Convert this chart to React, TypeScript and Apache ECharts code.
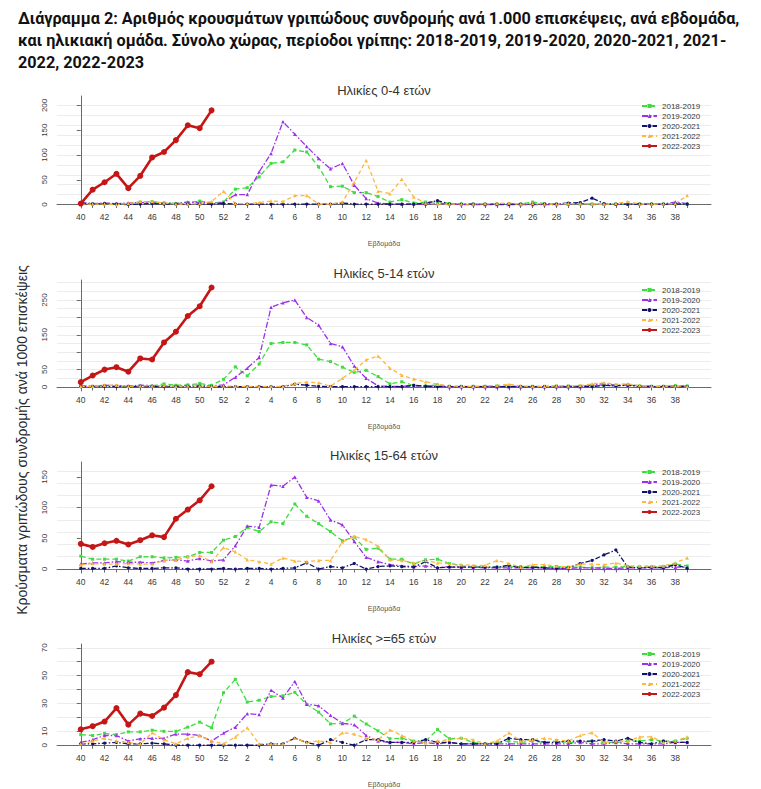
import React, { useEffect, useRef } from "react";
import * as echarts from "echarts";

// ---------- data ----------
const WEEKS = [40, 41, 42, 43, 44, 45, 46, 47, 48, 49, 50, 51, 52, 1, 2, 3, 4, 5, 6, 7, 8, 9, 10, 11, 12, 13, 14, 15, 16, 17, 18, 19, 20, 21, 22, 23, 24, 25, 26, 27, 28, 29, 30, 31, 32, 33, 34, 35, 36, 37, 38, 39];
const SEASONS = ["2018-2019", "2019-2020", "2020-2021", "2021-2022", "2022-2023"];
const PANEL_TITLES = ["Ηλικίες 0-4 ετών", "Ηλικίες 5-14 ετών", "Ηλικίες 15-64 ετών", "Ηλικίες >=65 ετών"];
const HEADER = [
  "Διάγραμμα 2: Αριθμός κρουσμάτων γριπώδους συνδρομής ανά 1.000 επισκέψεις, ανά εβδομάδα,",
  "και ηλικιακή ομάδα. Σύνολο χώρας, περίοδοι γρίπης: 2018-2019, 2019-2020, 2020-2021, 2021-",
  "2022, 2022-2023",
];
const Y_TITLE = "Κρούσματα γριπώδους συνδρομής ανά 1000 επισκέψεις";
const X_TITLE = "Εβδομάδα";

const Y_TICKS = [
  [0, 50, 100, 150, 200],
  [0, 50, 100, 150, 200, 250],
  [0, 50, 100, 150],
  [0, 10, 20, 30, 40, 50, 60, 70],
];
const Y_LABELS = [
  [0, 50, 100, 150, 200],
  [0, 50, 150, 250],
  [0, 50, 100, 150],
  [0, 10, 30, 50, 70],
];
const GRID_VALUES = [
  [0, 20, 40, 60, 80, 100, 120, 140, 160, 180, 200],
  [0, 25, 50, 75, 100, 125, 150, 175, 200, 225, 250, 275, 300],
  [0, 20, 40, 60, 80, 100, 120, 140, 160],
  [0, 10, 20, 30, 40, 50, 60, 70],
];

// Ηλικίες 0-4
const P1_1819 = [3, 2, 2, 1, 2, 5, 6, 3, 2, 4, 7, 3, 5, 31, 34, 56, 83, 86, 110, 106, 76, 36, 37, 24, 24, 16, 5, 10, 3, 5, 6, 2, 1, 1, 1, 1, 1, 1, 5, 2, 1, 1, 2, 1, 1, 1, 1, 1, 1, 1, 2, 1];
const P1_1920 = [4, 2, 3, 2, 3, 4, 4, 3, 2, 5, 4, 3, 4, 20, 20, 66, 103, 167, 142, 117, 93, 72, 83, 39, 12, 3, 1, 1, 1, 1, 3, 1, 0, 0, 0, 0, 0, 0, 0, 0, 0, 1, 2, 1, 1, 1, 1, 1, 1, 1, 5, 2];
const P1_2021 = [3, 1, 2, 1, 0, 1, 2, 1, 1, 1, 1, 1, 2, 1, 1, 1, 1, 1, 1, 1, 1, 1, 3, 1, 1, 1, 1, 1, 1, 2, 8, 1, 1, 1, 1, 1, 1, 1, 1, 1, 1, 3, 4, 13, 2, 1, 1, 1, 1, 1, 1, 1];
const P1_2122 = [1, 1, 1, 0, 2, 6, 6, 3, 1, 1, 2, 6, 27, 2, 2, 4, 7, 6, 18, 18, 1, 1, 5, 45, 89, 27, 22, 51, 15, 3, 1, 1, 1, 1, 2, 2, 3, 1, 2, 1, 1, 2, 2, 1, 1, 2, 6, 1, 1, 1, 2, 18];
const P1_2223 = [2, 30, 45, 62, 33, 58, 95, 106, 130, 160, 154, 190];

// Ηλικίες 5-14
const P2_1819 = [3, 2, 4, 3, 2, 4, 3, 9, 5, 6, 10, 5, 22, 58, 32, 66, 125, 128, 128, 121, 80, 73, 57, 42, 48, 30, 9, 15, 4, 3, 6, 2, 2, 2, 2, 3, 3, 2, 2, 2, 3, 3, 3, 4, 5, 4, 6, 3, 2, 2, 4, 3];
const P2_1920 = [3, 2, 5, 4, 3, 5, 4, 3, 3, 4, 5, 3, 6, 28, 54, 85, 229, 242, 250, 200, 178, 125, 116, 60, 25, 3, 2, 2, 3, 3, 2, 1, 1, 1, 1, 1, 1, 1, 1, 1, 1, 1, 1, 6, 10, 5, 6, 3, 2, 2, 3, 2];
const P2_2021 = [1, 1, 2, 1, 1, 1, 1, 1, 1, 1, 1, 1, 1, 1, 1, 1, 1, 1, 8, 5, 2, 1, 1, 1, 1, 1, 1, 1, 5, 2, 1, 1, 1, 1, 1, 1, 1, 1, 1, 1, 1, 1, 1, 1, 5, 3, 5, 2, 1, 1, 1, 1];
const P2_2122 = [2, 2, 5, 5, 2, 3, 3, 4, 2, 3, 3, 2, 3, 2, 2, 2, 2, 2, 10, 14, 12, 2, 25, 48, 78, 89, 54, 34, 23, 15, 8, 3, 2, 2, 3, 4, 8, 3, 2, 2, 3, 3, 4, 9, 12, 8, 9, 4, 2, 2, 3, 2];
const P2_2223 = [14, 33, 50, 57, 44, 82, 79, 128, 159, 204, 232, 286];

// Ηλικίες 15-64
const P3_1819 = [21, 16, 16, 16, 13, 20, 20, 18, 19, 20, 27, 27, 47, 53, 68, 61, 77, 74, 106, 86, 74, 61, 46, 52, 32, 34, 16, 16, 8, 15, 16, 9, 5, 4, 3, 3, 3, 4, 3, 4, 4, 3, 3, 2, 3, 3, 4, 3, 3, 4, 8, 5];
const P3_1920 = [8, 10, 10, 12, 11, 11, 10, 14, 15, 13, 17, 13, 15, 38, 70, 68, 137, 135, 150, 117, 111, 80, 72, 45, 19, 12, 7, 5, 4, 5, 2, 4, 3, 3, 2, 2, 2, 2, 2, 2, 1, 1, 2, 2, 1, 1, 2, 2, 2, 2, 3, 3];
const P3_2021 = [1, 1, 1, 5, 2, 1, 1, 2, 2, 0, 0, 0, 1, 0, 1, 1, 0, 1, 2, 10, 0, 4, 2, 9, 0, 4, 5, 4, 3, 12, 2, 3, 3, 3, 3, 3, 6, 2, 3, 2, 1, 2, 9, 14, 23, 31, 3, 2, 3, 2, 7, 1];
const P3_2122 = [7, 9, 8, 8, 9, 8, 8, 14, 15, 20, 22, 12, 35, 28, 15, 12, 8, 18, 13, 12, 14, 14, 44, 53, 48, 37, 15, 14, 10, 14, 10, 9, 7, 6, 6, 14, 9, 3, 7, 7, 5, 3, 8, 8, 7, 10, 5, 5, 5, 5, 10, 18];
const P3_2223 = [41, 36, 42, 46, 40, 47, 55, 52, 82, 97, 112, 135];

// Ηλικίες >=65
const P4_1819 = [7.6, 7, 8.5, 7.6, 9.6, 9.6, 10.8, 10, 10, 13, 16.6, 12.6, 37.7, 47.3, 31, 32.3, 35, 35.5, 38, 29.4, 23.8, 15.3, 15.7, 20.9, 15.3, 10.3, 4.7, 5, 3, 3, 11.2, 4.7, 5, 2, 1, 2, 3, 2, 3, 2, 3, 2, 2, 3, 2, 2, 3, 3, 4, 3, 3, 5];
const P4_1920 = [2, 4, 7, 7, 3, 4.7, 5, 5, 8, 8, 7, 3, 8.7, 13, 22.7, 22, 39.5, 33.9, 45.8, 29.4, 28.3, 21.5, 15.7, 14.8, 7, 3, 2, 2, 1, 2, 1, 2, 1, 1, 1, 1, 1, 1, 1, 1, 1, 1, 2, 1, 1, 2, 1, 1, 1, 1, 2, 2];
const P4_2021 = [1, 1, 1.5, 2, 1, 1, 1.5, 1, 0, 0, 0, 0, 0, 0, 0, 0, 1, 1, 5, 2, 0, 4, 2, 0, 4, 4, 2, 2, 2, 4, 2, 2, 1, 1, 1, 1, 5, 4, 4, 2, 2, 3, 3, 3, 4, 3, 5, 2, 1, 3, 2, 2];
const P4_2122 = [1, 3, 5, 3, 2, 1, 9, 4, 1, 5, 7, 3, 1, 6, 12.6, 1, 1, 1, 5, 2, 3, 2, 9, 8, 5, 4, 11, 7, 3, 2, 3, 4, 5, 4, 1, 3, 9, 3, 4, 5, 4, 3, 7, 9, 2, 3, 3, 6, 6, 2, 3, 6];
const P4_2223 = [11.4, 13.7, 17, 26.7, 14.8, 22.7, 21, 27, 36, 52.5, 51, 60];

const PANEL_DATA = [
  [P1_1819, P1_1920, P1_2021, P1_2122, P1_2223],
  [P2_1819, P2_1920, P2_2021, P2_2122, P2_2223],
  [P3_1819, P3_1920, P3_2021, P3_2122, P3_2223],
  [P4_1819, P4_1920, P4_2021, P4_2122, P4_2223],
];

// ---------- layout & style ----------
const FONT = '"Liberation Sans", Arial, sans-serif';
const HFONT = 'Roboto, "Noto Sans", "DejaVu Sans", sans-serif';
const PLOT_LEFT = 57;
const PLOT_RIGHT = 761 - 711;
const LAYOUT = [
  { top: 96, height: 112, min: -7, max: 219, titleY: 90 },
  { top: 280, height: 111, min: -11.5, max: 307.5, titleY: 273 },
  { top: 462, height: 111, min: -6.5, max: 174.5, titleY: 455 },
  { top: 644, height: 112, min: -2.7, max: 72.7, titleY: 638 },
];
const STYLES = [
  { color: "#3fdc3f", dash: [5, 3] as any, symbol: "rect", size: 3, width: 1.3 },
  { color: "#9b30e8", dash: [6, 2, 1.5, 2] as any, symbol: "triangle", size: 3.5, width: 1.3 },
  { color: "#12126e", dash: [5, 2, 1.5, 2] as any, symbol: "circle", size: 3.2, width: 1.3 },
  { color: "#ffb63c", dash: [4, 3] as any, symbol: "triangle", size: 3.5, width: 1.3 },
  { color: "#c51616", dash: "solid" as any, symbol: "circle", size: 6, width: 2.6 },
];
const AXIS_COLOR = "#6a6a6a";
const TEXT_COLOR = "#3a3a3a";

function headerFontSize(): number {
  try {
    const ctx = document.createElement("canvas").getContext("2d");
    if (!ctx) return 15;
    ctx.font = `bold 20px ${HFONT}`;
    const w = ctx.measureText(HEADER[0]).width;
    return Math.max(12, Math.min(17, (20 * 722) / w));
  } catch (e) {
    return 15;
  }
}

function buildOption(): any {
  const idxTicks = WEEKS.map((_, i) => i);
  const idxLabels = WEEKS.map((_, i) => i).filter((i) => i % 2 === 0);

  const grid = LAYOUT.map((l) => ({ left: PLOT_LEFT, right: PLOT_RIGHT, top: l.top, height: l.height }));
  const xAxis = LAYOUT.map((l, k) => ({
    type: "value",
    gridIndex: k,
    min: -2,
    max: 53,
    axisLine: { show: true, lineStyle: { color: AXIS_COLOR, width: 1 } },
    axisTick: { show: true, customValues: idxTicks, length: 3.5, lineStyle: { color: AXIS_COLOR } },
    axisLabel: {
      customValues: idxLabels,
      formatter: (v: number) => String(WEEKS[Math.round(v)]),
      fontSize: 8.5,
      color: TEXT_COLOR,
      fontFamily: FONT,
      margin: 4,
    },
    splitLine: { show: false },
    name: X_TITLE,
    nameLocation: "middle",
    nameGap: 32,
    nameTextStyle: { fontSize: 7, color: "#555", fontFamily: FONT },
  }));
  const yAxis = LAYOUT.map((l, k) => ({
    type: "value",
    gridIndex: k,
    min: l.min,
    max: l.max,
    axisLine: { show: true, lineStyle: { color: AXIS_COLOR, width: 1 } },
    axisTick: { show: true, customValues: Y_TICKS[k], length: 4, lineStyle: { color: AXIS_COLOR } },
    axisLabel: {
      customValues: Y_LABELS[k],
      rotate: 90,
      fontSize: 8,
      color: TEXT_COLOR,
      fontFamily: FONT,
      margin: 9,
    },
    splitLine: { show: false },
  }));

  const series: any[] = [];
  LAYOUT.forEach((l, k) => {
    series.push({
      type: "line",
      name: "grid" + k,
      xAxisIndex: k,
      yAxisIndex: k,
      data: [],
      silent: true,
      z: 1,
      markLine: {
        silent: true,
        symbol: ["none", "none"],
        label: { show: false },
        z: 0,
        lineStyle: { color: "#ececec", width: 1, type: "solid" },
        data: GRID_VALUES[k].map((v) => ({ yAxis: v })),
      },
    });
    PANEL_DATA[k].forEach((vals, s) => {
      const st = STYLES[s];
      series.push({
        type: "line",
        name: SEASONS[s],
        xAxisIndex: k,
        yAxisIndex: k,
        data: vals.map((v, i) => [i, v]),
        symbol: st.symbol,
        symbolSize: st.size,
        showSymbol: true,
        lineStyle: { color: st.color, width: st.width, type: st.dash },
        itemStyle: { color: st.color },
        z: s === 4 ? 5 : 3,
        silent: true,
      });
    });
  });

  const legend = LAYOUT.map((l) => ({
    show: true,
    orient: "vertical",
    left: 641,
    top: l.top + 6,
    padding: 0,
    itemWidth: 15,
    itemHeight: 5,
    itemGap: 2,
    selectedMode: false,
    data: SEASONS,
    textStyle: { fontSize: 8, color: TEXT_COLOR, fontFamily: FONT, lineHeight: 8 },
  }));

  const hfs = headerFontSize();
  const graphic: any[] = [];
  HEADER.forEach((t, i) => {
    graphic.push({
      type: "text",
      x: 18,
      y: 18 + i * 22,
      style: { text: t, fontSize: hfs, fontWeight: "bold", fontFamily: HFONT, fill: "#111", verticalAlign: "middle", align: "left" },
    });
  });
  LAYOUT.forEach((l, k) => {
    graphic.push({
      type: "text",
      x: 384,
      y: l.titleY,
      style: { text: PANEL_TITLES[k], fontSize: 13, fontFamily: FONT, fill: "#333", align: "center", verticalAlign: "middle" },
    });
  });
  graphic.push({
    type: "text",
    x: 22,
    y: 440,
    rotation: Math.PI / 2,
    style: { text: Y_TITLE, fontSize: 14, fontFamily: FONT, fill: "#2a2a2a", align: "center", verticalAlign: "middle" },
  });

  return {
    animation: false,
    backgroundColor: "#ffffff",
    grid,
    xAxis,
    yAxis,
    legend,
    series,
    graphic,
  };
}

export default function App() {
  const ref = useRef<HTMLDivElement>(null);
  useEffect(() => {
    if (!ref.current) return;
    const chart = echarts.init(ref.current, null, { renderer: "svg" });
    chart.setOption(buildOption());
    return () => chart.dispose();
  }, []);
  return <div ref={ref} style={{ position: "absolute", left: 0, top: 0, width: 761, height: 789 }} />;
}
